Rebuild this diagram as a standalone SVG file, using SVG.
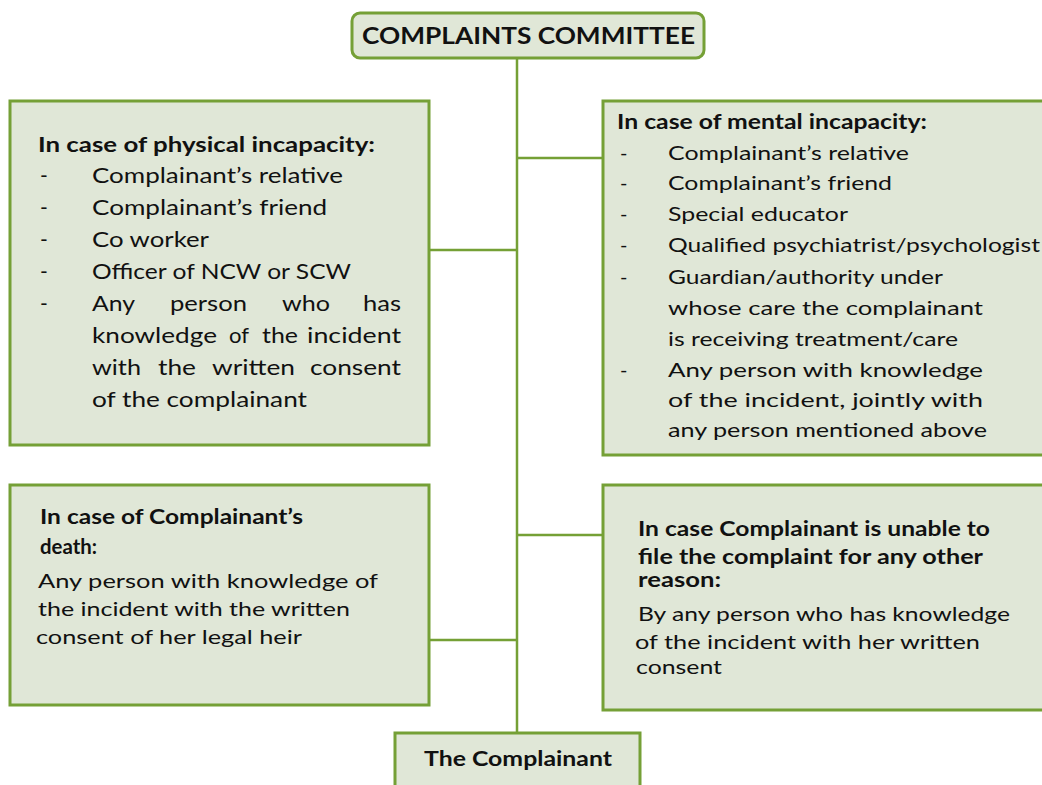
<svg xmlns="http://www.w3.org/2000/svg" width="1042" height="785" viewBox="0 0 1042 785">
<style>
.box{fill:#e0e7d7;stroke:#75a036;stroke-width:3}
.conn{stroke:#75a036;stroke-width:2.5;fill:none}
text{font-family:Lato,"Open Sans","Liberation Sans",sans-serif;fill:#111}
.b{font-weight:bold}
.t21{font-size:21px}
.t20{font-size:20px}
</style>
<rect width="1042" height="785" fill="#ffffff"/>
<g id="connectors">
<line class="conn" x1="517" y1="58" x2="517" y2="733"/>
<line class="conn" x1="430" y1="250" x2="517" y2="250"/>
<line class="conn" x1="517" y1="158" x2="603" y2="158"/>
<line class="conn" x1="430" y1="640" x2="517" y2="640"/>
<line class="conn" x1="517" y1="535" x2="603" y2="535"/>
</g>
<g id="committee">
<rect class="box" x="352" y="13" width="352" height="45" rx="8"/>
<text class="b" x="362" y="44" font-size="22" textLength="333" lengthAdjust="spacingAndGlyphs">COMPLAINTS COMMITTEE</text>
</g>
<g id="physical" class="t21">
<rect class="box" x="10" y="101" width="419" height="344"/>
<text class="b" x="38" y="152" textLength="337" lengthAdjust="spacingAndGlyphs">In case of physical incapacity:</text>
<text x="40" y="183">-</text><text x="92" y="183" textLength="251" lengthAdjust="spacingAndGlyphs">Complainant’s relative</text>
<text x="40" y="215">-</text><text x="92" y="215" textLength="235" lengthAdjust="spacingAndGlyphs">Complainant’s friend</text>
<text x="40" y="247">-</text><text x="92" y="247" textLength="117" lengthAdjust="spacingAndGlyphs">Co worker</text>
<text x="40" y="279">-</text><text x="92" y="279" textLength="259" lengthAdjust="spacingAndGlyphs">Officer of NCW or SCW</text>
<text x="40" y="311">-</text>
<text x="92" y="311" textLength="43" lengthAdjust="spacingAndGlyphs">Any</text>
<text x="170" y="311" textLength="77" lengthAdjust="spacingAndGlyphs">person</text>
<text x="282" y="311" textLength="48" lengthAdjust="spacingAndGlyphs">who</text>
<text x="363" y="311" textLength="38" lengthAdjust="spacingAndGlyphs">has</text>
<text x="92" y="343" textLength="125" lengthAdjust="spacingAndGlyphs">knowledge</text>
<text x="229" y="343" textLength="20" lengthAdjust="spacingAndGlyphs">of</text>
<text x="262" y="343" textLength="36" lengthAdjust="spacingAndGlyphs">the</text>
<text x="307" y="343" textLength="94" lengthAdjust="spacingAndGlyphs">incident</text>
<text x="92" y="375" textLength="49" lengthAdjust="spacingAndGlyphs">with</text>
<text x="158" y="375" textLength="38" lengthAdjust="spacingAndGlyphs">the</text>
<text x="212" y="375" textLength="83" lengthAdjust="spacingAndGlyphs">written</text>
<text x="310" y="375" textLength="91" lengthAdjust="spacingAndGlyphs">consent</text>
<text x="92" y="407" textLength="215" lengthAdjust="spacingAndGlyphs">of the complainant</text>
</g>
<g id="mental" class="t20">
<rect class="box" x="603" y="101" width="445" height="354"/>
<text class="b" x="617" y="129" textLength="310" lengthAdjust="spacingAndGlyphs">In case of mental incapacity:</text>
<text x="620" y="160">-</text><text x="668" y="160" textLength="241" lengthAdjust="spacingAndGlyphs">Complainant’s relative</text>
<text x="620" y="190">-</text><text x="668" y="190" textLength="224" lengthAdjust="spacingAndGlyphs">Complainant’s friend</text>
<text x="620" y="221">-</text><text x="668" y="221" textLength="180" lengthAdjust="spacingAndGlyphs">Special educator</text>
<text x="620" y="252">-</text><text x="668" y="252" textLength="372" lengthAdjust="spacingAndGlyphs">Qualified psychiatrist/psychologist</text>
<text x="620" y="284">-</text><text x="668" y="284" textLength="275" lengthAdjust="spacingAndGlyphs">Guardian/authority under</text>
<text x="668" y="315" textLength="315" lengthAdjust="spacingAndGlyphs">whose care the complainant</text>
<text x="668" y="346" textLength="290" lengthAdjust="spacingAndGlyphs">is receiving treatment/care</text>
<text x="620" y="377">-</text><text x="668" y="377" textLength="315" lengthAdjust="spacingAndGlyphs">Any person with  knowledge</text>
<text x="668" y="407" textLength="315" lengthAdjust="spacingAndGlyphs">of the incident, jointly with</text>
<text x="668" y="437" textLength="319" lengthAdjust="spacingAndGlyphs">any person mentioned above</text>
</g>
<g id="death" class="t20">
<rect class="box" x="10" y="485" width="419" height="220"/>
<text class="b" x="40" y="524" textLength="263" lengthAdjust="spacingAndGlyphs">In case of Complainant’s</text>
<text class="b" x="40" y="554" textLength="57" lengthAdjust="spacingAndGlyphs">death:</text>
<text x="38" y="588" textLength="340" lengthAdjust="spacingAndGlyphs">Any person with knowledge of</text>
<text x="38" y="616" textLength="312" lengthAdjust="spacingAndGlyphs">the incident with the written</text>
<text x="36" y="644" textLength="266" lengthAdjust="spacingAndGlyphs">consent of her legal heir</text>
</g>
<g id="other" class="t20">
<rect class="box" x="603" y="485" width="445" height="225"/>
<text class="b" x="638" y="536" textLength="352" lengthAdjust="spacingAndGlyphs">In case Complainant is unable to</text>
<text class="b" x="638" y="564" textLength="345" lengthAdjust="spacingAndGlyphs">file the complaint for any other</text>
<text class="b" x="638" y="587" textLength="83" lengthAdjust="spacingAndGlyphs">reason:</text>
<text x="638" y="621" textLength="372" lengthAdjust="spacingAndGlyphs">By any person who has knowledge</text>
<text x="635" y="649" textLength="345" lengthAdjust="spacingAndGlyphs">of the incident with her written</text>
<text x="636" y="674" textLength="86" lengthAdjust="spacingAndGlyphs">consent</text>
</g>
<g id="complainant">
<rect class="box" x="395" y="733" width="245" height="60"/>
<text class="b" x="424" y="766" font-size="20" textLength="188" lengthAdjust="spacingAndGlyphs">The Complainant</text>
</g>
</svg>
